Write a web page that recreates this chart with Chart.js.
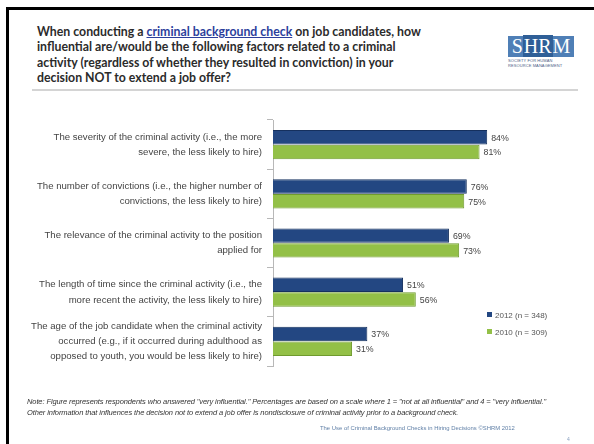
<!DOCTYPE html>
<html>
<head>
<meta charset="utf-8">
<script src="https://cdn.jsdelivr.net/npm/chart.js@4/dist/chart.umd.min.js"></script>
<style>
  html, body { margin: 0; padding: 0; background: #fff; }
  #page { position: relative; width: 594px; height: 444px; overflow: hidden; background: #fff; }
  #frame { position: absolute; left: 6px; top: 7px; width: 600px; height: 460px; border-left: 3px solid #000; border-top: 3px solid #000; }
  #title { position: absolute; left: 37px; top: 24px; width: 460px; font: bold 12.3px Lato, sans-serif; line-height: 15.3px; color: #2b2b2b; white-space: nowrap; }
  #title u { color: #2d3f9c; }
  #rule { position: absolute; left: 32px; top: 89px; width: 546px; height: 2px; background: #d4d4d4; }
  #logo { position: absolute; left: 508px; top: 36px; width: 66px; }
  #logo .box { height: 21px; background: #4f7fb6; color: #fff; font: 20px "Liberation Serif", serif; line-height: 21px; text-align: center; }
  #logo .box span { background: #2f5f97; padding: 0 1px; }
  #logo .sub { font: 4px "Liberation Sans", sans-serif; color: #4b5e86; line-height: 5px; margin-top: 1px; letter-spacing: 0.1px; }
  #chart-wrap { position: absolute; left: 0; top: 0; width: 594px; height: 444px; }
  #legend { position: absolute; left: 487px; top: 310px; font: 8px "Liberation Sans", sans-serif; color: #555; }
  #legend div { height: 17px; line-height: 12px; }
  #legend i { display: inline-block; width: 5px; height: 5px; margin-right: 3px; vertical-align: 1px; }
  #note { position: absolute; left: 27px; top: 397px; width: 570px; font: italic 7.5px "Liberation Sans", sans-serif; color: #333; line-height: 10.5px; white-space: nowrap; letter-spacing: -0.1px; }
  #source { position: absolute; left: 320px; top: 425px; font: 5.9px "Liberation Sans", sans-serif; color: #5f7fa6; }
  #pnum { position: absolute; left: 567px; top: 436px; font: 5px "Liberation Sans", sans-serif; color: #8aa0c0; }
</style>
</head>
<body>
<div id="page">
  <div id="frame"></div>
  <div id="title">When conducting a <u>criminal background check</u> on job candidates, how<br>influential are/would be the following factors related to a criminal<br>activity (regardless of whether they resulted in conviction) in your<br>decision NOT to extend a job offer?</div>
  <div id="logo">
    <div class="box">S<span>HR</span>M</div>
    <div class="sub">SOCIETY FOR HUMAN<br>RESOURCE MANAGEMENT</div>
  </div>
  <div id="rule"></div>
  <div id="chart-wrap"><canvas id="factors-chart" width="594" height="444"></canvas></div>
  <div id="legend"></div>
  <div id="note">Note: Figure represents respondents who answered "very influential." Percentages are based on a scale where 1 = "not at all influential" and 4 = "very influential."<br>Other information that influences the decision not to extend a job offer is nondisclosure of criminal activity prior to a background check.</div>
  <div id="source">The Use of Criminal Background Checks in Hiring Decisions ©SHRM 2012</div>
  <div id="pnum">4</div>
</div>
<script>
// Factors (multi-line labels) and share answering "very influential"
const factors = [
    ['The severity of the criminal activity (i.e., the more', 'severe, the less likely to hire)'],
    ['The number of convictions (i.e., the higher number of', 'convictions, the less likely to hire)'],
    ['The relevance of the criminal activity to the position', 'applied for'],
    ['The length of time since the criminal activity (i.e., the', 'more recent the activity, the less likely to hire)'],
    ['The age of the job candidate when the criminal activity', 'occurred (e.g., if it occurred during adulthood as', 'opposed to youth, you would be less likely to hire)']
];
const series2012 = [84, 76, 69, 51, 37];
const series2010 = [81, 75, 73, 56, 31];
const seriesNames = ['2012 (n = 348)', '2010 (n = 309)'];
const seriesColors = ['#234782', '#93c047'];
const seriesBorders = ['#15305e', '#6f9a2e'];

// value labels to the right of each bar
const valueLabels = {
    id: 'valueLabels',
    afterDatasetsDraw(chart) {
        const ctx = chart.ctx;
        ctx.save();
        ctx.font = '8.8px "Liberation Sans", sans-serif';
        ctx.fillStyle = '#444';
        ctx.textBaseline = 'middle';
        chart.data.datasets.forEach(function (ds, i) {
            chart.getDatasetMeta(i).data.forEach(function (bar, j) {
                ctx.fillText(ds.data[j] + '%', bar.x + 4, bar.y + 1);
            });
        });
        ctx.restore();
    }
};

document.addEventListener('DOMContentLoaded', function () {
    const ctx = document.getElementById('factors-chart').getContext('2d');
    new Chart(ctx, {
        type: 'bar',
        data: {
            labels: factors,
            datasets: [{
                label: seriesNames[0],
                data: series2012,
                backgroundColor: seriesColors[0],
                borderColor: seriesBorders[0],
                borderWidth: 1
            }, {
                label: seriesNames[1],
                data: series2010,
                backgroundColor: seriesColors[1],
                borderColor: seriesBorders[1],
                borderWidth: 1
            }]
        },
        options: {
            indexAxis: 'y',
            responsive: false,
            animation: false,
            layout: { padding: { top: 120, bottom: 78, left: 0, right: 66 } },
            datasets: { bar: { categoryPercentage: 0.6, barPercentage: 0.98 } },
            plugins: {
                legend: { display: false },
                tooltip: { enabled: false }
            },
            scales: {
                x: { display: false, min: 0, max: 100 },
                y: {
                    afterFit: function (scale) { scale.width = 273; },
                    grid: { drawOnChartArea: false, offset: true, tickLength: 6, color: '#b8b8b8' },
                    border: { color: '#b8b8b8' },
                    ticks: {
                        padding: 5,
                        color: '#444',
                        font: { family: '"Liberation Sans", sans-serif', size: 9.6, lineHeight: 1.6 }
                    }
                }
            }
        },
        plugins: [valueLabels]
    });

    // legend entries
    const legend = document.getElementById('legend');
    seriesNames.forEach(function (name, i) {
        const row = document.createElement('div');
        row.innerHTML = '<i style="background:' + seriesColors[i] + '"></i>' + name;
        legend.appendChild(row);
    });
});
</script>
</body>
</html>
